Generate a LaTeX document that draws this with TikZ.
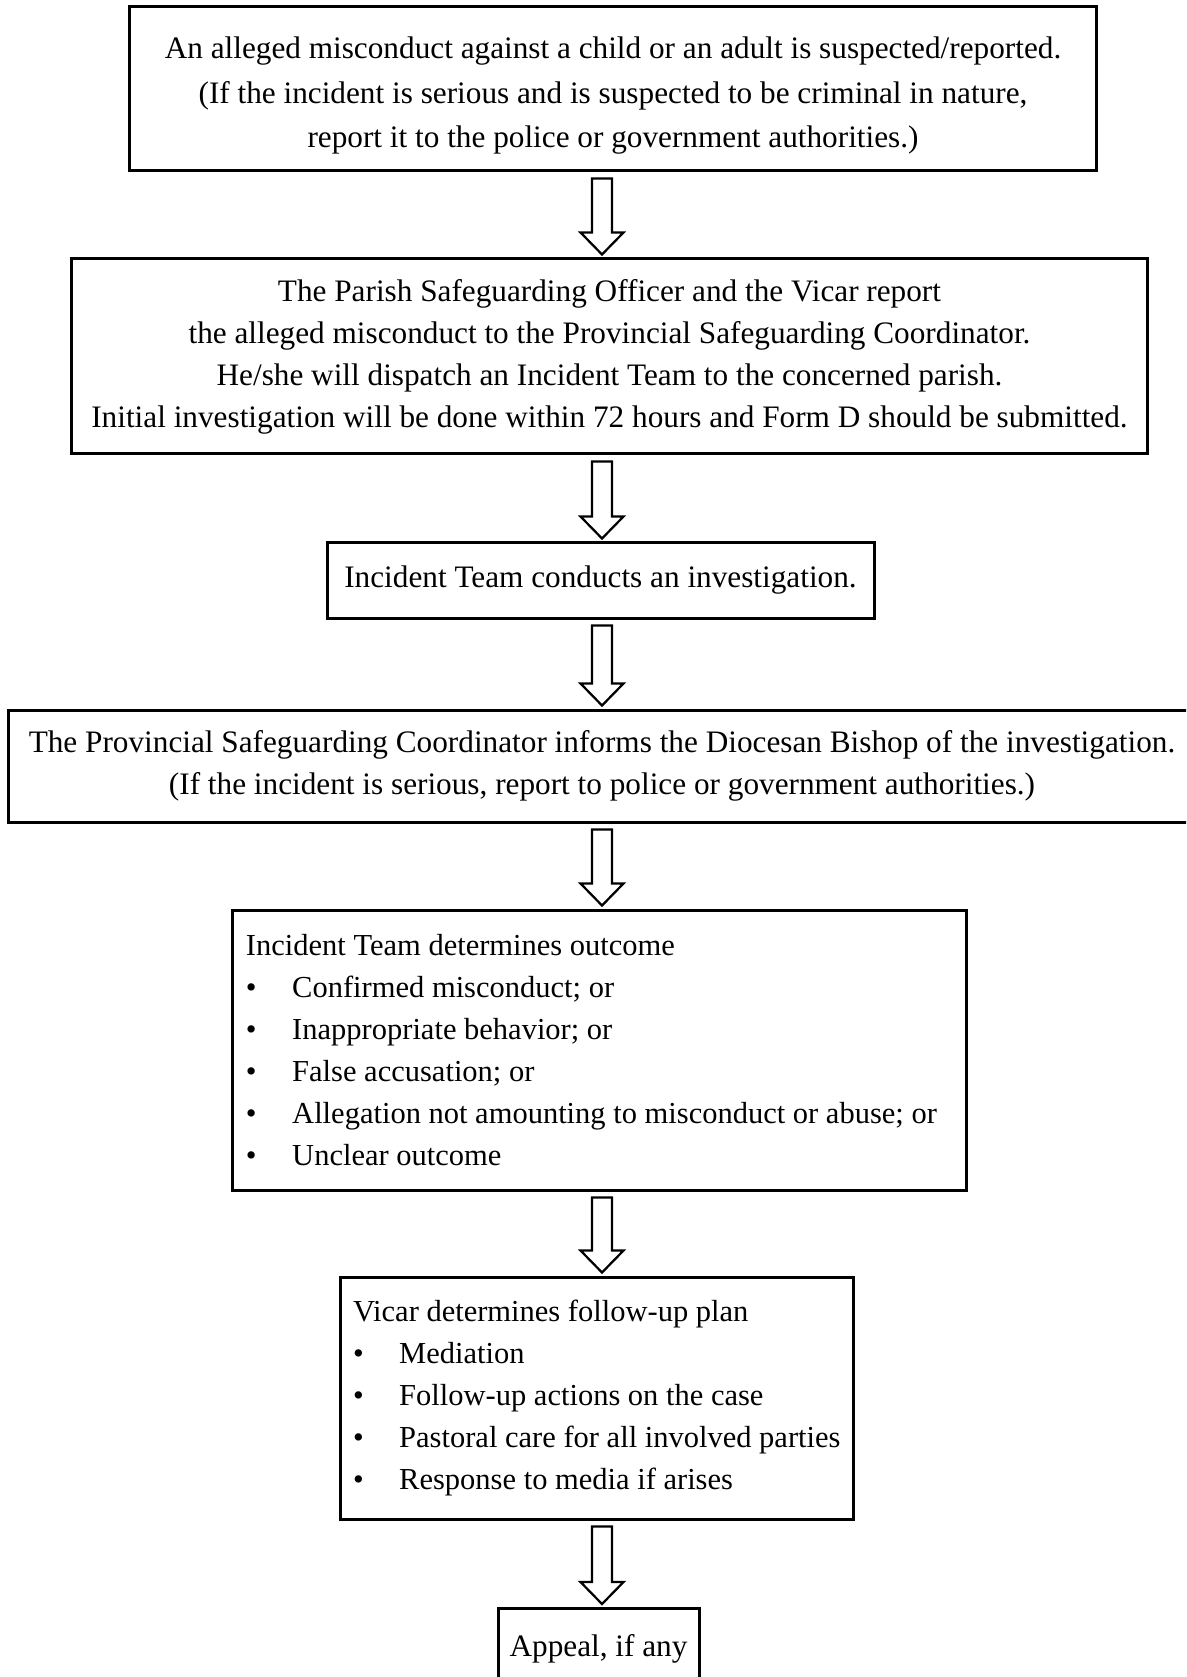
\documentclass[tikz,border=0pt]{standalone}
\usepackage{fontspec}
\setmainfont{Liberation Serif}
\usetikzlibrary{calc}

\tikzset{
  flowbox/.style={draw, rectangle, line width=1.2pt, align=center, inner sep=0pt,
    font=\fontsize{12.5}{16.8}\selectfont},
  listbox/.style={flowbox, align=flush left, inner xsep=5.2pt,
    font=\fontsize{12.2}{16.8}\selectfont},
  arrowline/.style={line width=0.9pt, fill=white},
}
\newcommand{\bul}[1]{\mbox{\makebox[18.5pt][l]{\textbullet}#1}}
% hollow block arrow from the bottom of one box to the top of the next
\newcommand{\hollowarrow}[2]{%
  \draw[arrowline] let \p1=(#1.south), \p2=(#2.north) in
    (\ax-4pt,\y1-2.4pt) -- (\ax+4pt,\y1-2.4pt) -- (\ax+4pt,\y2+10pt)
    -- (\ax+8.6pt,\y2+10pt) -- (\ax,\y2+1.2pt) -- (\ax-8.6pt,\y2+10pt)
    -- (\ax-4pt,\y2+10pt) -- cycle;}
\def\ax{240.8pt}

\begin{document}
\begin{tikzpicture}[x=0.4pt, y=-0.4pt]
  \useasboundingbox (0,0) rectangle (1186,1677);
  \clip (0,0) rectangle (1186,1677);

  \node[flowbox, font=\fontsize{12.5}{17.8}\selectfont,
        minimum width=386.4pt, minimum height=65.6pt] (report) at (613,89)
    {\rule{0pt}{14pt}An alleged misconduct against a child or an adult is suspected/reported.\\
     (If the incident is serious and is suspected to be criminal in nature,\\
     report it to the police or government authorities.)};

  \node[flowbox, minimum width=430pt, minimum height=78pt] (officer) at (609.5,356.5)
    {The Parish Safeguarding Officer and the Vicar report\\
     the alleged misconduct to the Provincial Safeguarding Coordinator.\\
     He/she will dispatch an Incident Team to the concerned parish.\\
     Initial investigation will be done within 72 hours and Form D should be submitted.};

  \node[flowbox, minimum width=218.8pt, minimum height=30pt] (investigate) at (600.5,580.5)
    {Incident Team conducts an investigation.};

  \node[flowbox, minimum width=474.4pt, minimum height=44.8pt] (bishop) at (602,766)
    {The Provincial Safeguarding Coordinator informs the Diocesan Bishop of the investigation.\\
     (If the incident is serious, report to police or government authorities.)};

  \node[listbox, text width=282.8pt, minimum height=112pt] (outcome) at (599.5,1050)
    {Incident Team determines outcome\\
     \bul{Confirmed misconduct; or}\\
     \bul{Inappropriate behavior; or}\\
     \bul{False accusation; or}\\
     \bul{Allegation not amounting to misconduct or abuse; or}\\
     \bul{Unclear outcome}};

  \node[listbox, text width=194.8pt, minimum height=96.8pt] (followup) at (596.5,1398)
    {Vicar determines follow-up plan\\
     \bul{Mediation}\\
     \bul{Follow-up actions on the case}\\
     \bul{Pastoral care for all involved parties}\\
     \bul{Response to media if arises}};

  \node[flowbox, minimum width=80.4pt, minimum height=32pt, anchor=north] (appeal) at (598.5,1607)
    {Appeal, if any};

  \hollowarrow{report}{officer}
  \hollowarrow{officer}{investigate}
  \hollowarrow{investigate}{bishop}
  \hollowarrow{bishop}{outcome}
  \hollowarrow{outcome}{followup}
  \hollowarrow{followup}{appeal}
\end{tikzpicture}
\end{document}
